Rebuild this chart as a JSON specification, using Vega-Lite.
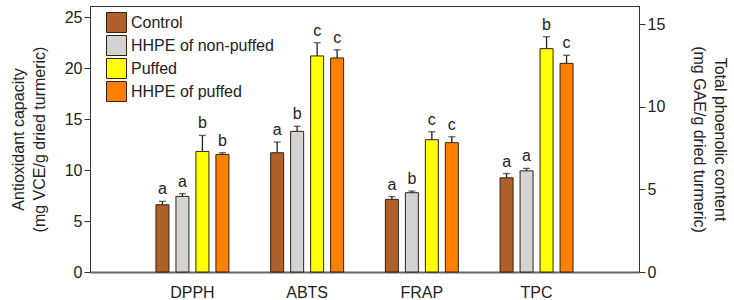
{
  "$schema": "https://vega.github.io/schema/vega-lite/v6.json",
  "width": 549,
  "height": 266,
  "autosize": {"type": "none"},
  "padding": {"left": 90, "top": 6, "right": 95, "bottom": 28},
  "background": "white",
  "config": {
    "font": "Liberation Sans",
    "view": {"stroke": "#333333", "strokeWidth": 1},
    "axis": {"grid": false, "labelFontSize": 16, "labelColor": "#222222", "titleFontSize": 16, "titleFontWeight": "normal", "titleColor": "#222222", "domainColor": "#333333", "tickColor": "#333333", "labelFont": "Liberation Sans", "titleFont": "Liberation Sans"},
    "legend": {"labelFont": "Liberation Sans"}
  },
  "datasets": {
    "anti": [
      {"assay": "DPPH", "treatment": "Control", "value": 6.6, "upper": 6.93, "letter": "a"},
      {"assay": "DPPH", "treatment": "HHPE of non-puffed", "value": 7.42, "upper": 7.69, "letter": "a"},
      {"assay": "DPPH", "treatment": "Puffed", "value": 11.83, "upper": 13.4, "letter": "b"},
      {"assay": "DPPH", "treatment": "HHPE of puffed", "value": 11.54, "upper": 11.7, "letter": "b"},
      {"assay": "ABTS", "treatment": "Control", "value": 11.7, "upper": 12.75, "letter": "a"},
      {"assay": "ABTS", "treatment": "HHPE of non-puffed", "value": 13.8, "upper": 14.3, "letter": "b"},
      {"assay": "ABTS", "treatment": "Puffed", "value": 21.2, "upper": 22.5, "letter": "c"},
      {"assay": "ABTS", "treatment": "HHPE of puffed", "value": 21.0, "upper": 21.8, "letter": "c"},
      {"assay": "FRAP", "treatment": "Control", "value": 7.13, "upper": 7.4, "letter": "a"},
      {"assay": "FRAP", "treatment": "HHPE of non-puffed", "value": 7.78, "upper": 7.94, "letter": "b"},
      {"assay": "FRAP", "treatment": "Puffed", "value": 12.98, "upper": 13.76, "letter": "c"},
      {"assay": "FRAP", "treatment": "HHPE of puffed", "value": 12.69, "upper": 13.27, "letter": "c"}
    ],
    "tpc": [
      {"assay": "TPC", "treatment": "Control", "value": 5.7, "upper": 5.96, "letter": "a"},
      {"assay": "TPC", "treatment": "HHPE of non-puffed", "value": 6.12, "upper": 6.27, "letter": "a"},
      {"assay": "TPC", "treatment": "Puffed", "value": 13.52, "upper": 14.24, "letter": "b"},
      {"assay": "TPC", "treatment": "HHPE of puffed", "value": 12.63, "upper": 13.12, "letter": "c"}
    ]
  },
  "encoding": {
    "x": {"field": "assay", "type": "nominal", "title": null,
      "scale": {"domain": ["DPPH", "ABTS", "FRAP", "TPC"], "paddingInner": 0.364, "paddingOuter": 0.575},
      "axis": {"labelAngle": 0, "ticks": false, "domainColor": "#666666", "domainWidth": 2, "labelPadding": 12}},
    "xOffset": {"field": "treatment", "type": "nominal",
      "scale": {"domain": ["Control", "HHPE of non-puffed", "Puffed", "HHPE of puffed"], "paddingInner": 0.35, "paddingOuter": 0}}
  },
  "layer": [
    {
      "data": {"name": "anti"},
      "layer": [
        {
          "mark": {"type": "bar", "stroke": "#332211", "strokeWidth": 1},
          "encoding": {
            "y": {"field": "value", "type": "quantitative",
              "scale": {"domain": [0, 26.1], "nice": false},
              "axis": {"orient": "left", "values": [0, 5, 10, 15, 20, 25], "tickSize": 6, "labelPadding": 2, "title": ["Antioxidant capacity", "(mg VCE/g dried turmeric)"], "titleLineHeight": 21, "titlePadding": 17}},
            "fill": {"field": "treatment", "type": "nominal",
              "scale": {"domain": ["Control", "HHPE of non-puffed", "Puffed", "HHPE of puffed"], "range": ["#B0602A", "#D3D3D3", "#FFFF00", "#FF7F00"]},
              "legend": {"title": null, "orient": "none", "legendX": 16, "legendY": 6, "symbolType": "square", "symbolSize": 400, "symbolStrokeColor": "#332211", "symbolStrokeWidth": 1, "labelFontSize": 16, "labelColor": "#222222", "labelOffset": 4, "rowPadding": -9}}
          }
        },
        {
          "mark": {"type": "rule", "color": "#222222", "strokeWidth": 1.3},
          "encoding": {"y": {"field": "value", "type": "quantitative"}, "y2": {"field": "upper"}}
        },
        {
          "mark": {"type": "tick", "color": "#222222", "size": 7, "thickness": 1.3, "orient": "horizontal"},
          "encoding": {"y": {"field": "upper", "type": "quantitative"}}
        },
        {
          "mark": {"type": "text", "fontSize": 16, "color": "#222222", "baseline": "alphabetic", "dy": -7},
          "encoding": {"y": {"field": "upper", "type": "quantitative"}, "text": {"field": "letter"}}
        }
      ]
    },
    {
      "data": {"name": "tpc"},
      "layer": [
        {
          "mark": {"type": "bar", "stroke": "#332211", "strokeWidth": 1},
          "encoding": {
            "y": {"field": "value", "type": "quantitative",
              "scale": {"domain": [0, 16.1], "nice": false},
              "axis": {"orient": "right", "values": [0, 5, 10, 15], "tickSize": 6, "labelPadding": 2, "title": ["Total phoenolic content", "(mg GAE/g dried turmeric)"], "titleLineHeight": 21, "titlePadding": 26}},
            "fill": {"field": "treatment", "type": "nominal"}
          }
        },
        {
          "mark": {"type": "rule", "color": "#222222", "strokeWidth": 1.3},
          "encoding": {"y": {"field": "value", "type": "quantitative"}, "y2": {"field": "upper"}}
        },
        {
          "mark": {"type": "tick", "color": "#222222", "size": 7, "thickness": 1.3, "orient": "horizontal"},
          "encoding": {"y": {"field": "upper", "type": "quantitative"}}
        },
        {
          "mark": {"type": "text", "fontSize": 16, "color": "#222222", "baseline": "alphabetic", "dy": -7},
          "encoding": {"y": {"field": "upper", "type": "quantitative"}, "text": {"field": "letter"}}
        }
      ]
    }
  ],
  "resolve": {"scale": {"y": "independent"}, "axis": {"y": "independent"}}
}
